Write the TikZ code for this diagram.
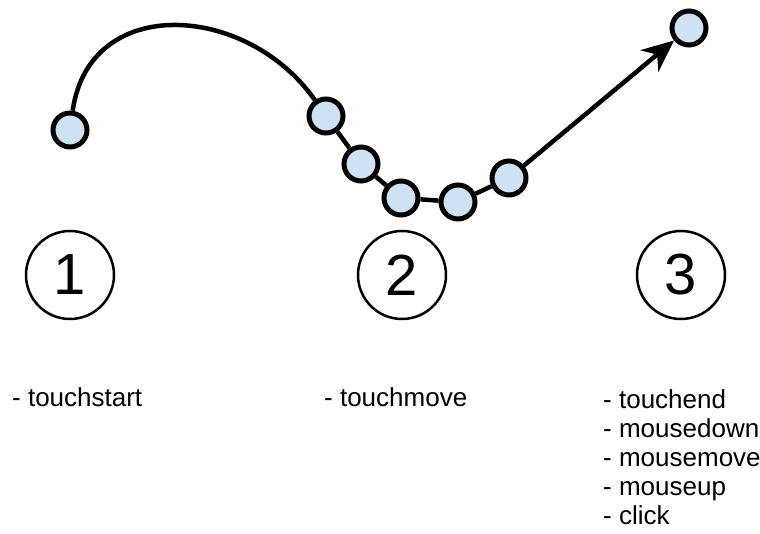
\documentclass[tikz,border=0pt]{standalone}
\usepackage{fontspec}
\setmainfont{Liberation Sans}
\usetikzlibrary{positioning,arrows.meta}
\definecolor{dotblue}{HTML}{CFE2F3}

\begin{document}
\begin{tikzpicture}[x=1pt,y=1pt]
		\tikzstyle{every node}+=[inner sep=0pt]
		\tikzstyle{dot}=[circle,draw=black,line width=5pt,fill=dotblue,minimum size=34pt]
		\tikzstyle{stage}=[circle,draw=black,line width=2.5pt,minimum size=88pt,font=\fontsize{58}{58}\selectfont]
		\tikzstyle{track}=[line width=4.5pt]
		\tikzstyle{evt}=[align=left,font=\fontsize{26}{29}\selectfont]
		\useasboundingbox (0,0) rectangle (760,534);
		% the finger's way
		\node [dot] (d1) at (70,404) {};
		\node [dot] (d2) at (326,418) {};
		\node [dot] (d3) at (361,370) {};
		\node [dot] (d4) at (401,336) {};
		\node [dot] (d5) at (458,332) {};
		\node [dot] (d6) at (509,356) {};
		\node [dot] (d7) at (689,506) {};
		\draw [track] (d1) to[out=82,in=125,looseness=1.25] (d2);
		\draw [track] (d2) -- (d3) -- (d4) -- (d5) -- (d6);
		\draw [track,-{Stealth[length=32pt,width=28pt,inset=10pt]}] (d6) -- (d7);
		% stages
		\node [stage] (s1) at (70,259) {1};
		\node [stage] (s2) at (402,259) {2};
		\node [stage] (s3) at (681,259) {3};
		% events
		\node [evt,anchor=base west] (e1) at (12,127) {- touchstart};
		\node [evt,anchor=base west] (e2) at (324,127) {- touchmove};
		\node [evt,anchor=north west] (e3) at (603,145) {- touchend\\- mousedown\\- mousemove\\- mouseup\\- click};
\end{tikzpicture}
\end{document}
